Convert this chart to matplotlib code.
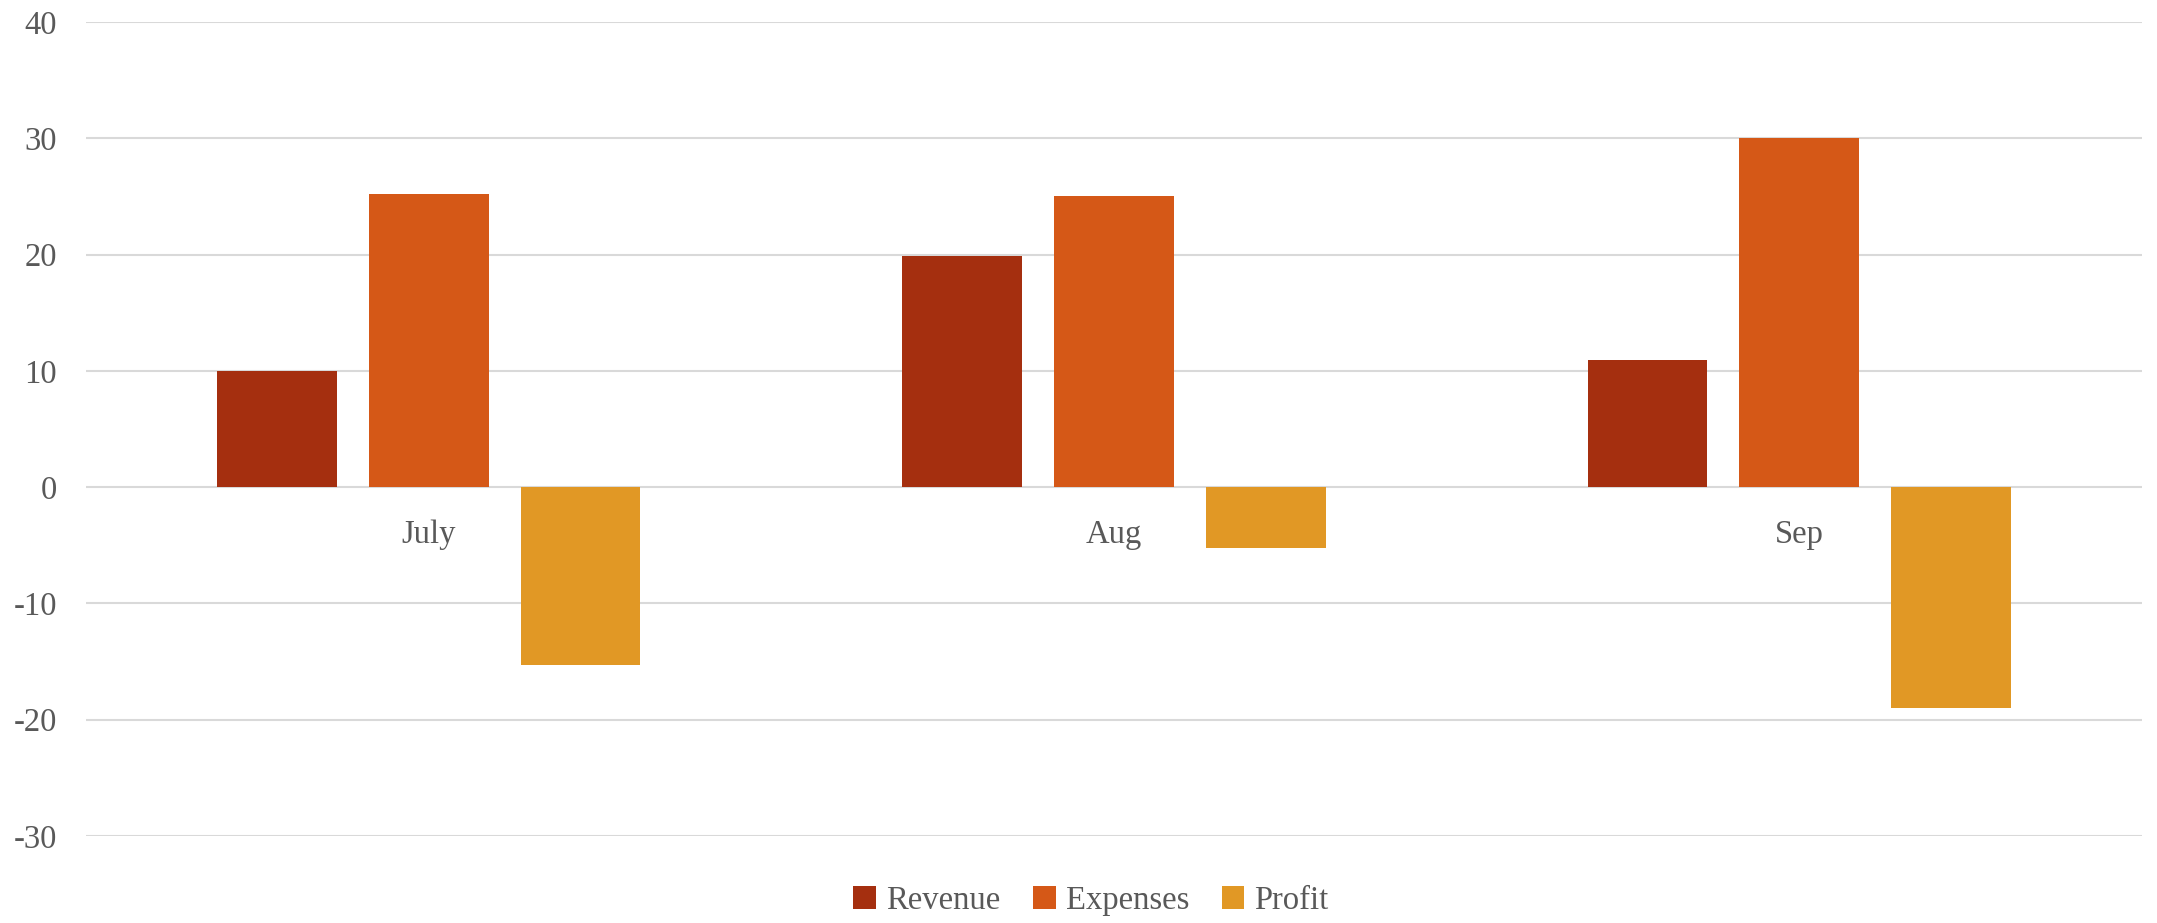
import matplotlib
matplotlib.use("Agg")
import matplotlib.pyplot as plt
from matplotlib.patches import Patch
import numpy as np

months = ["July", "Aug", "Sep"]
series = ["Revenue", "Expenses", "Profit"]
revenue = [10.0, 19.85, 10.9]
expenses = [25.2, 25.0, 30.0]
profit = [-15.3, -5.2, -19.0]
yticks = [-30, -20, -10, 0, 10, 20, 30, 40]

colors = ["#A52F0F", "#D55817", "#E19825"]
text_color = "#595959"
grid_color = "#D9D9D9"

plt.rcParams['font.family'] = ['Liberation Serif', 'DejaVu Serif']
FS = 23.5

fig = plt.figure(figsize=(21.57, 9.23), dpi=100)
ax = fig.add_axes([86/2157, 1-836/923, (2142-86)/2157, (836-22)/923])

x = np.arange(len(months))
pitch = 0.2215
width = 0.175
for k, (vals, c, name) in enumerate(zip([revenue, expenses, profit], colors, series)):
    ax.bar(x + (k-1)*pitch, vals, width=width, color=c, zorder=3, label=name)

ax.set_ylim(-30, 40)
ax.set_xlim(-0.5, 2.5)
ax.set_yticks(yticks)
ax.set_yticklabels([str(t) for t in yticks])
ax.yaxis.grid(True, color=grid_color, linewidth=1.5, zorder=0)
ax.set_axisbelow(True)
for s in ax.spines.values():
    s.set_visible(False)
ax.tick_params(axis='y', length=0, pad=21, labelsize=FS, labelcolor=text_color)
ax.set_xticks([])

for i, m in enumerate(months):
    ax.annotate(m, xy=(i, 0), xytext=(0, -34.5), textcoords='offset points',
                ha='center', va='center', fontsize=FS, color=text_color)

handles = [Patch(facecolor=c, edgecolor='none') for c in colors]
fig.legend(handles, series, loc='center', bbox_to_anchor=(1091/2157, 1-901/923),
           ncol=3, frameon=False, fontsize=FS, labelcolor=text_color,
           handlelength=0.7, handleheight=0.7, handletextpad=0.3, columnspacing=1.0)

fig.savefig("out.png", dpi=100, facecolor="white")
